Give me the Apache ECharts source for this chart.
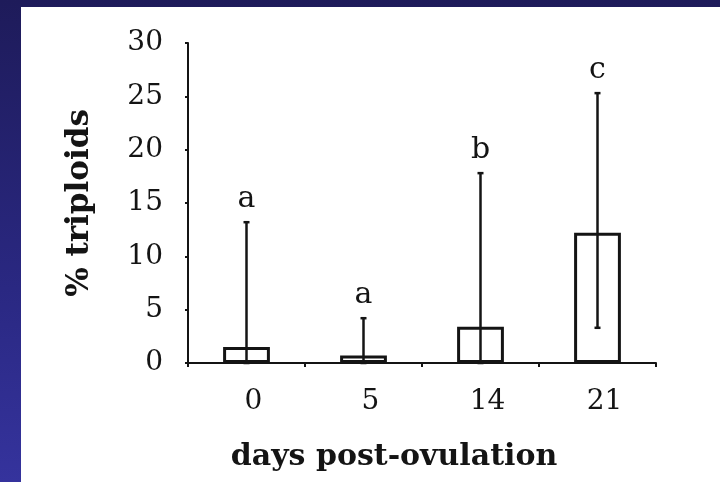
<!DOCTYPE html>
<html>
<head>
<meta charset="utf-8">
<script src="https://cdn.jsdelivr.net/npm/echarts@6/dist/echarts.min.js"></script>
<style>
  html, body {
    margin: 0; padding: 0; width: 720px; height: 482px; overflow: hidden;
    background: linear-gradient(to bottom, #1e1b5a 0%, #2a2882 60%, #35339d 100%);
  }
  #panel { position: absolute; left: 21px; top: 7px; right: 0; bottom: 0; background: #ffffff; }
  #chart { position: absolute; left: 0; top: 0; width: 720px; height: 482px; }
</style>
</head>
<body>
<div id="panel"></div>
<div id="chart"></div>
<script>
// Days after ovulation (x categories)
const days = ['0', '5', '14', '21'];
// Mean percentage of triploid embryos per group
const meanPct = [1.5, 0.7, 3.4, 12.2];
// Error bar extent (lower / upper ends, in %)
const errLow = [0, 0, 0, 3.3];
const errHigh = [13.2, 4.2, 17.8, 25.3];
// Significance groups written above each error bar
const groupLetters = ['a', 'a', 'b', 'c'];
// Y axis range and step
const yMin = 0, yMax = 30, yStep = 5;

const ink = '#141414';
const serif = '"DejaVu Serif", "Liberation Serif", serif';

const chart = echarts.init(document.getElementById('chart'), null, { renderer: 'canvas' });

chart.setOption({
  backgroundColor: 'transparent',
  animation: false,
  grid: { left: 188, right: 64, top: 43, bottom: 119, containLabel: false },
  xAxis: {
    type: 'category',
    data: days,
    name: 'days post-ovulation',
    nameLocation: 'middle',
    nameGap: 79,
    nameTextStyle: {
      fontFamily: serif, fontWeight: 'bold', fontSize: 30, color: ink,
      padding: [0, 56, 0, 0]
    },
    axisLine: { lineStyle: { color: ink, width: 2 } },
    axisTick: { show: true, inside: false, length: 4, lineStyle: { color: ink, width: 2 } },
    axisLabel: {
      margin: 25, fontFamily: serif, fontSize: 28, color: ink,
      padding: [0, 0, 0, 14]
    },
    splitLine: { show: false }
  },
  yAxis: {
    type: 'value',
    min: yMin, max: yMax, interval: yStep,
    name: '% triploids',
    nameLocation: 'middle',
    nameGap: 93,
    nameTextStyle: { fontFamily: serif, fontWeight: 'bold', fontSize: 31, color: ink },
    axisLine: { show: true, lineStyle: { color: ink, width: 2 } },
    axisTick: { show: true, inside: false, length: 3, lineStyle: { color: ink, width: 2 } },
    axisLabel: { margin: 25, fontFamily: serif, fontSize: 28, color: ink },
    splitLine: { show: false }
  },
  series: [
    {
      type: 'bar',
      data: meanPct,
      barWidth: '40%',
      itemStyle: { color: '#ffffff', borderColor: ink, borderWidth: 3 },
      z: 2
    },
    {
      type: 'custom',
      z: 3,
      data: days.map((d, i) => [i, errLow[i], errHigh[i]]),
      encode: { x: 0, y: [1, 2] },
      renderItem: function (params, api) {
        const i = api.value(0);
        const hi = api.coord([i, api.value(2)]);
        const lo = api.coord([i, api.value(1)]);
        const cap = 3;
        const stroke = { stroke: ink, lineWidth: 2.5 };
        return {
          type: 'group',
          children: [
            { type: 'line', shape: { x1: hi[0], y1: hi[1], x2: lo[0], y2: lo[1] }, style: stroke },
            { type: 'line', shape: { x1: hi[0] - cap, y1: hi[1], x2: hi[0] + cap, y2: hi[1] }, style: stroke },
            { type: 'line', shape: { x1: lo[0] - cap, y1: lo[1], x2: lo[0] + cap, y2: lo[1] }, style: stroke },
            {
              type: 'text',
              x: hi[0], y: hi[1] - 8,
              style: {
                text: groupLetters[params.dataIndex],
                fontFamily: serif, fontSize: 30, fill: ink,
                align: 'center', verticalAlign: 'bottom'
              }
            }
          ]
        };
      }
    }
  ]
});
</script>
</body>
</html>
